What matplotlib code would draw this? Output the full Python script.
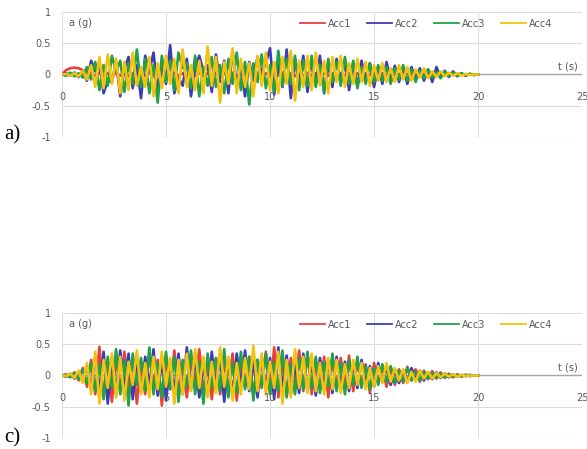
import numpy as np
import matplotlib
matplotlib.use('Agg')
import matplotlib.pyplot as plt

# sampling of the digitised records (s)
dt = 0.2
n_pts = 101

series_names = ['Acc1', 'Acc2', 'Acc3', 'Acc4']
series_colors = ['#e8413a', '#3b3db5', '#22a14a', '#f4c20d']
x_ticks = [0, 5, 10, 15, 20, 25]
y_ticks = [-1, -0.5, 0, 0.5, 1]
y_tick_labels = ['-1', '-0.5', '0', '0.5', '1']

# ---- panel a) ----
a_acc1 = [0.00, 0.07, 0.10, 0.11, 0.10, 0.07, 0.03, 0.02, -0.02, 0.03,
          -0.03, 0.02, -0.02, 0.03, -0.02, 0.02, -0.03, 0.02, -0.02, 0.03,
          -0.02, 0.03, -0.03, 0.02, -0.02, 0.02, -0.03, 0.03, -0.02, 0.02,
          -0.03, 0.02, -0.02, 0.03, -0.02, 0.02, -0.03, 0.02, -0.02, 0.03,
          -0.02, 0.03, -0.03, 0.02, -0.02, 0.02, -0.03, 0.03, -0.02, 0.02,
          -0.03, 0.02, -0.02, 0.03, -0.02, 0.02, -0.03, 0.02, -0.02, 0.03,
          -0.02, 0.02, -0.02, 0.02, -0.02, 0.02, -0.02, 0.02, -0.02, 0.02,
          -0.02, 0.02, -0.02, 0.02, -0.01, 0.02, -0.01, 0.02, -0.01, 0.01,
          -0.01, 0.01, -0.01, 0.01, -0.01, 0.01, -0.01, 0.01, -0.01, 0.01,
          -0.01, 0.01, -0.01, 0.01, 0.00, 0.01, 0.00, 0.00, 0.00, 0.00,
          0.00]
a_acc2 = [0.00, 0.02, -0.02, 0.03, -0.04, 0.05, -0.10, 0.22, 0.05, 0.18,
          -0.30, -0.10, -0.12, 0.20, -0.35, 0.10, 0.28, -0.22, 0.15, -0.38,
          0.30, 0.05, 0.35, -0.25, 0.12, -0.15, 0.47, -0.30, -0.05, -0.18,
          0.25, -0.35, 0.10, 0.30, 0.05, 0.15, -0.28, 0.32, -0.12, 0.22,
          -0.30, 0.38, -0.15, 0.12, -0.35, 0.20, -0.10, 0.28, 0.02, 0.18,
          0.42, -0.32, 0.15, -0.20, 0.40, -0.38, 0.25, -0.12, 0.30, -0.28,
          0.22, -0.15, 0.30, -0.30, 0.18, -0.20, 0.25, -0.12, 0.20, -0.25,
          0.15, -0.18, 0.22, -0.10, 0.18, -0.20, 0.12, -0.15, 0.20, -0.08,
          0.14, -0.12, 0.10, -0.15, 0.12, -0.08, 0.10, -0.10, 0.08, -0.12,
          0.12, -0.05, 0.06, -0.04, 0.05, -0.03, 0.02, -0.02, 0.01, -0.01,
          0.00]
a_acc3 = [0.00, -0.02, 0.03, -0.03, 0.02, -0.05, 0.12, -0.08, 0.20, -0.25,
          0.15, -0.18, 0.30, 0.05, 0.22, -0.28, 0.18, -0.15, 0.40, -0.20,
          0.25, -0.30, 0.15, -0.45, 0.30, -0.12, 0.22, -0.25, 0.35, 0.10,
          0.18, -0.22, 0.30, -0.35, 0.12, -0.18, 0.28, -0.20, 0.15, -0.30,
          0.25, -0.15, 0.35, -0.25, 0.20, -0.48, 0.18, -0.12, 0.32, -0.22,
          0.15, -0.28, 0.38, -0.18, 0.25, -0.15, 0.30, -0.25, 0.22, -0.18,
          0.30, -0.20, 0.15, -0.28, 0.25, -0.12, 0.20, -0.18, 0.28, -0.15,
          0.22, -0.22, 0.12, -0.15, 0.18, -0.12, 0.15, -0.10, 0.12, -0.15,
          0.10, -0.08, 0.15, -0.10, 0.08, -0.12, 0.06, -0.06, 0.08, -0.05,
          0.04, -0.06, 0.05, -0.03, 0.03, -0.02, 0.02, -0.01, 0.01, 0.00,
          0.00]
a_acc4 = [0.00, 0.01, -0.02, 0.02, -0.03, 0.06, -0.08, 0.15, -0.20, 0.28,
          -0.22, 0.32, -0.15, 0.25, -0.30, 0.20, -0.25, 0.35, -0.18, 0.12,
          -0.20, 0.28, -0.35, 0.18, -0.22, 0.30, -0.15, 0.25, -0.30, 0.40,
          -0.20, 0.15, -0.25, 0.22, -0.30, 0.45, -0.18, 0.28, -0.45, 0.20,
          -0.15, 0.42, -0.30, 0.25, -0.20, 0.18, -0.35, 0.30, -0.18, 0.35,
          -0.25, 0.20, -0.30, 0.28, -0.15, 0.38, -0.42, 0.22, -0.20, 0.30,
          -0.25, 0.35, -0.18, 0.22, -0.30, 0.28, -0.12, 0.30, -0.20, 0.18,
          -0.15, 0.25, -0.12, 0.20, -0.18, 0.15, -0.10, 0.18, -0.12, 0.10,
          -0.12, 0.15, -0.08, 0.12, -0.10, 0.08, -0.05, 0.10, -0.06, 0.05,
          -0.04, 0.05, -0.03, 0.03, -0.02, 0.02, -0.02, 0.01, -0.01, 0.00,
          0.00]

# ---- panel c) ----
c_acc1 = [0.00, 0.02, -0.03, 0.05, -0.08, 0.12, -0.18, 0.25, -0.30, 0.46,
          -0.35, 0.20, -0.42, 0.30, -0.25, 0.38, -0.20, 0.28, -0.45, 0.22,
          -0.30, 0.35, -0.15, 0.25, -0.48, 0.30, -0.22, 0.40, -0.28, 0.18,
          -0.35, 0.30, -0.20, 0.42, -0.25, 0.15, -0.38, 0.28, -0.30, 0.22,
          -0.25, 0.35, -0.40, 0.20, -0.18, 0.30, -0.32, 0.25, -0.20, 0.38,
          -0.28, 0.45, -0.35, 0.22, -0.30, 0.28, -0.15, 0.40, -0.25, 0.35,
          -0.30, 0.20, -0.22, 0.30, -0.35, 0.25, -0.18, 0.28, -0.20, 0.32,
          -0.25, 0.22, -0.15, 0.18, -0.28, 0.20, -0.12, 0.15, -0.18, 0.12,
          -0.15, 0.10, -0.12, 0.14, -0.08, 0.10, -0.10, 0.08, -0.06, 0.07,
          -0.05, 0.05, -0.04, 0.03, -0.03, 0.02, -0.02, 0.01, -0.01, 0.00,
          0.00]
c_acc2 = [0.00, -0.02, 0.03, -0.05, 0.06, -0.10, 0.15, -0.22, 0.30, -0.25,
          0.38, -0.45, 0.25, -0.30, 0.40, -0.20, 0.35, -0.38, 0.22, -0.28,
          0.30, -0.18, 0.42, -0.32, 0.25, -0.40, 0.20, -0.25, 0.35, -0.30,
          0.45, -0.22, 0.28, -0.35, 0.18, -0.28, 0.38, -0.20, 0.30, -0.42,
          0.25, -0.30, 0.35, -0.18, 0.40, -0.25, 0.22, -0.35, 0.30, -0.20,
          0.28, -0.38, 0.45, -0.22, 0.32, -0.30, 0.20, -0.28, 0.35, -0.25,
          0.22, -0.32, 0.28, -0.18, 0.25, -0.28, 0.30, -0.15, 0.22, -0.25,
          0.18, -0.20, 0.25, -0.12, 0.15, -0.18, 0.20, -0.10, 0.12, -0.15,
          0.10, -0.12, 0.08, -0.10, 0.12, -0.06, 0.08, -0.08, 0.05, -0.06,
          0.05, -0.04, 0.03, -0.03, 0.02, -0.02, 0.01, -0.01, 0.01, 0.00,
          0.00]
c_acc3 = [0.00, 0.01, -0.02, 0.04, -0.06, 0.10, -0.12, 0.20, -0.25, 0.18,
          -0.38, 0.30, -0.20, 0.42, -0.30, 0.25, -0.48, 0.35, -0.15, 0.28,
          -0.25, 0.45, -0.30, 0.20, -0.35, 0.38, -0.22, 0.30, -0.42, 0.25,
          -0.18, 0.40, -0.30, 0.22, -0.45, 0.35, -0.20, 0.28, -0.25, 0.42,
          -0.35, 0.20, -0.28, 0.38, -0.22, 0.30, -0.40, 0.25, -0.18, 0.35,
          -0.30, 0.22, -0.25, 0.40, -0.35, 0.18, -0.30, 0.28, -0.22, 0.38,
          -0.20, 0.30, -0.28, 0.22, -0.18, 0.35, -0.25, 0.20, -0.30, 0.25,
          -0.15, 0.30, -0.20, 0.15, -0.22, 0.12, -0.15, 0.18, -0.10, 0.15,
          -0.12, 0.08, -0.10, 0.12, -0.08, 0.06, -0.08, 0.06, -0.05, 0.04,
          -0.04, 0.03, -0.03, 0.02, -0.02, 0.01, -0.01, 0.01, 0.00, 0.00,
          0.00]
c_acc4 = [0.00, -0.01, 0.03, -0.04, 0.08, -0.12, 0.20, -0.30, 0.38, -0.45,
          0.25, -0.20, 0.35, -0.35, 0.30, -0.40, 0.22, -0.15, 0.40, -0.30,
          0.20, -0.35, 0.30, -0.22, 0.38, -0.18, 0.28, -0.45, 0.25, -0.30,
          0.35, -0.25, 0.42, -0.20, 0.30, -0.35, 0.22, -0.28, 0.45, -0.18,
          0.30, -0.40, 0.20, -0.30, 0.28, -0.22, 0.48, -0.25, 0.35, -0.30,
          0.22, -0.20, 0.38, -0.45, 0.25, -0.35, 0.42, -0.20, 0.30, -0.28,
          0.35, -0.25, 0.20, -0.30, 0.28, -0.22, 0.25, -0.28, 0.18, -0.20,
          0.25, -0.15, 0.20, -0.22, 0.12, -0.18, 0.15, -0.12, 0.20, -0.10,
          0.12, -0.08, 0.10, -0.12, 0.06, -0.10, 0.08, -0.05, 0.06, -0.05,
          0.04, -0.03, 0.03, -0.02, 0.02, -0.02, 0.01, -0.01, 0.00, 0.00,
          0.00]

t = np.arange(n_pts) * dt

grid_col = '#dcdcdc'
text_col = '#595959'


def draw_panel(ax, records):
    for rec, name, col in zip(records, series_names, series_colors):
        ax.plot(t, rec, color=col, linewidth=1.9, label=name,
                solid_joinstyle='round')
    ax.set_xlim(0, 25)
    ax.set_ylim(-1, 1)
    ax.set_xticks(x_ticks)
    ax.set_yticks(y_ticks)
    ax.set_yticklabels(y_tick_labels)
    ax.grid(True, color=grid_col, linewidth=0.8)
    ax.set_axisbelow(True)
    for s in ax.spines.values():
        s.set_visible(False)
    ax.tick_params(length=0, labelbottom=False, labelsize=7,
                   labelcolor=text_col, pad=8)
    ax.axhline(0, color='#a6a6a6', linewidth=1.0, zorder=1.5)
    for xt in x_ticks:
        ax.text(xt, -0.36, str(xt), ha='center', va='center',
                fontsize=7, color=text_col)
    ax.text(0.35, 0.82, 'a (g)', ha='left', va='center', fontsize=7,
            color=text_col)
    ax.text(24.3, 0.12, 't (s)', ha='center', va='center', fontsize=7,
            color=text_col)
    leg = ax.legend(loc='center', bbox_to_anchor=(0.70, 0.905), ncol=4,
                    frameon=False, fontsize=7, handlelength=2.6,
                    columnspacing=1.6, handletextpad=0.3,
                    labelcolor=text_col)
    for h in leg.legend_handles:
        h.set_linewidth(1.3)


fig = plt.figure(figsize=(5.87, 4.49), dpi=100)
ax_a = fig.add_axes([0.1056, 0.6949, 0.886, 0.2784])
ax_c = fig.add_axes([0.1056, 0.0245, 0.886, 0.2784])

draw_panel(ax_a, [a_acc1, a_acc2, a_acc3, a_acc4])
draw_panel(ax_c, [c_acc1, c_acc2, c_acc3, c_acc4])

fig.text(0.008, 1 - 135 / 449, 'a)', family='Liberation Serif',
         fontsize=15, va='center', ha='left')
fig.text(0.008, 1 - 438 / 449, 'c)', family='Liberation Serif',
         fontsize=15, va='center', ha='left')

fig.savefig('out.png', dpi=100)
